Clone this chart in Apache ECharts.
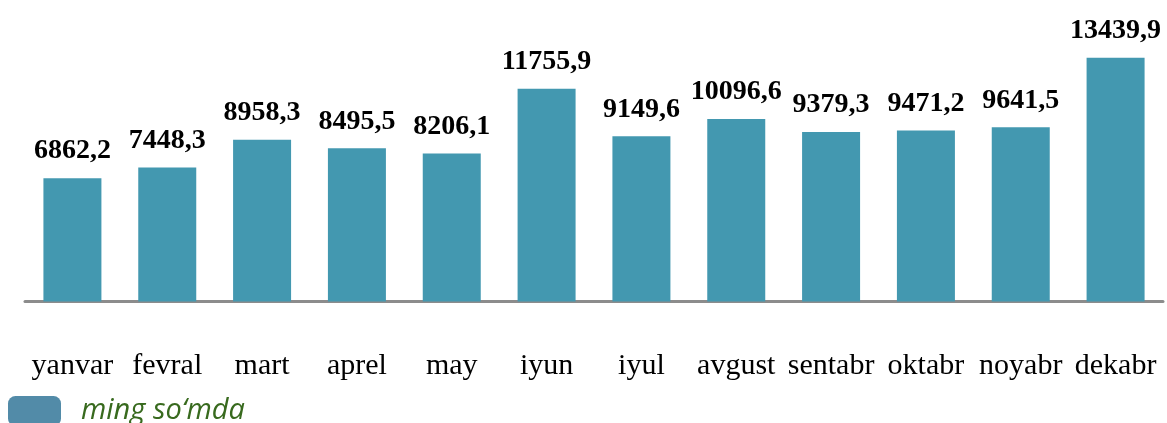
<!DOCTYPE html>
<html>
<head>
<meta charset="utf-8">
<script src="https://cdn.jsdelivr.net/npm/echarts@6/dist/echarts.min.js"></script>
<style>
html,body{margin:0;padding:0;background:#fff;}
#chart{width:1167px;height:423px;}
</style>
</head>
<body>
<div id="chart"></div>
<script>
const months = ['yanvar','fevral','mart','aprel','may','iyun','iyul','avgust','sentabr','oktabr','noyabr','dekabr'];
const values = [6862.2, 7448.3, 8958.3, 8495.5, 8206.1, 11755.9, 9149.6, 10096.6, 9379.3, 9471.2, 9641.5, 13439.9];
const seriesName = 'ming so\u2018mda';

const chart = echarts.init(document.getElementById('chart'));
chart.setOption({
  animation: false,
  backgroundColor: '#ffffff',
  grid: { left: 25, right: 4, top: 11, bottom: 121.5, containLabel: false },
  legend: {
    left: 8, top: 396, padding: 0,
    itemWidth: 53, itemHeight: 30, itemGap: 10,
    icon: 'roundRect',
    data: [{ name: seriesName, itemStyle: { color: '#528ba8' } }],
    textStyle: { fontFamily: 'Open Sans', fontStyle: 'italic', fontSize: 29, color: '#386a1e', padding: [0,0,22,15] }
  },
  xAxis: {
    type: 'category',
    data: months,
    axisLine: { show: true, lineStyle: { color: '#8c8c8c', width: 3 } },
    axisTick: { show: false },
    axisLabel: { interval: 0, margin: 50, fontFamily: 'Liberation Serif', fontSize: 30, color: '#000' }
  },
  yAxis: {
    type: 'value', min: 120, max: 16000,
    show: false, splitLine: { show: false }
  },
  series: [{
    name: seriesName,
    type: 'bar',
    data: values,
    barWidth: 58,
    itemStyle: { color: '#4398b0' },
    label: {
      show: true, position: 'top', distance: 13,
      fontFamily: 'Liberation Serif', fontWeight: 'bold', fontSize: 28, color: '#000',
      formatter: p => p.value.toFixed(1).replace('.', ',')
    }
  }]
});
</script>
</body>
</html>
